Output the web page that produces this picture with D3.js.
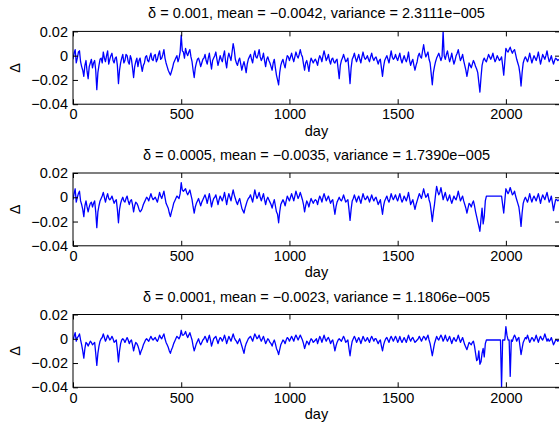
<!DOCTYPE html>
<html lang="en">
	<head>
		<meta charset="utf-8">
		<title>D3: delta per day, three subplots</title>
		<script src="https://d3js.org/d3.v7.min.js"></script>
		<style type="text/css">
			body { margin: 0; background: white; }
			text {
				font-family: "Liberation Sans", Arial, sans-serif;
				font-size: 14.5px;
				fill: black;
			}
		</style>
	</head>
	<body>
		<svg id="fig" width="559" height="432"></svg>

		<script type="text/javascript">

			// values, in units of 0.001.
			// deltaN holds days 0,10,20..., midN holds days 5,15,25...
			var dayStep = 10;
			var xMax = 2250;
			var xTicks = [0, 500, 1000, 1500, 2000];
			var yTicks = [0.02, 0, -0.02, -0.04];

			var titles = [
				"\u03b4 = 0.001, mean = \u22120.0042, variance = 2.3111e\u2212005",
				"\u03b4 = 0.0005, mean = \u22120.0035, variance = 1.7390e\u2212005",
				"\u03b4 = 0.0001, mean = \u22120.0023, variance = 1.1806e\u2212005"
			];

			var delta1 = [
				-3, 5, -2, 4, -9, -17, -4, -19, -6, -10,
				-4, -28, -8, -2, 3, -5, 4, -3, 2, -6,
				-1, -23, -6, 1, -4, 0, -7, -3, -18, -5,
				-9, -2, -13, -6, 0, -5, 2, -4, 1, -3,
				4, -2, 5, -6, -12, -16, -10, -4, 0, -2,
				17, 3, 6, 0, 5, -5, -18, -6, -2, -9,
				-3, 1, -7, 2, -11, -2, 3, -8, 0, -5,
				4, -10, 2, -4, 10, -3, -8, -2, -12, -5,
				-14, -3, 1, -6, 4, -2, 5, -4, 2, -9,
				-1, -6, -12, -3, -16, -24, -8, -3, -10, 0,
				-4, 2, -5, 3, -2, 5, -1, -12, -4, -13,
				-2, -6, -3, -8, 0, -5, 4, -4, 1, -7,
				-2, -6, -3, -19, -4, 1, -5, -2, -23, -3,
				2, -5, 1, -6, 3, -3, 0, -5, 2, -4,
				-1, -7, -3, -17, -4, 0, -6, 4, -3, 1,
				-4, 2, -6, 0, -5, 3, -8, -3, -12, -5,
				2, -2, 9, -1, 3, -6, -24, -9, -2, 2,
				-4, 20, -3, 4, -5, 2, -7, 0, 5, -4,
				1, -8, -17, -6, -10, -4, -9, -14, -30, -8,
				-2, -5, 1, -3, 2, -5, 0, -4, -1, -16,
				6, 3, 7, 2, 5, -3, -9, -25, -6, -1,
				-5, 2, -6, 0, -4, 3, -7, 1, -3, 4,
				-5, 0, -7, -2, -4
			];
			var mid1 = [
				2, -6, 3, -5, -12, -8, -13, -9, -3, -6,
				-12, -14, -3, -6, -2, 0, -7, 0, -4, -2,
				-8, -12, -2, -6, 1, -5, 0, -10, -9, -2,
				-4, -8, -8, -1, -4, -1, -3, 0, -5, 1,
				-3, 1, -2, -9, -14, -13, -6, -2, -5, 3,
				4, -2, 2, 3, -1, -12, -10, -3, -5, -6,
				-2, -4, -2, -5, -4, 0, -3, -4, -3, 0,
				-5, -2, -1, 3, 5, -6, -4, -7, -8, -9,
				-7, -1, -3, 0, -1, 1, -1, -2, -4, -3,
				-4, -9, -6, -10, -20, -14, -5, -7, -4, -1,
				-1, -2, -1, 0, 1, 1, -7, -6, -8, -6,
				-4, -4, -5, -3, -2, 0, 0, -2, -4, -3,
				-5, -4, -11, -8, -2, -2, -4, -12, -10, -1,
				-2, -2, -3, -1, -1, -2, -3, -1, -2, -2,
				-4, -4, -10, -9, -2, -3, -1, -1, -2, -2,
				-1, -3, -3, -3, -2, -4, -5, -8, -8, 0,
				-1, 4, 3, 1, -3, -15, -14, -5, 0, -1,
				-1, 0, 1, -1, -2, -3, -4, 2, 0, -2,
				-4, -12, -12, -8, -7, -6, -11, -22, -18, -4,
				-4, -2, -1, -1, -2, -3, -2, -3, -8, -5,
				4, 5, 4, 4, 1, -6, -15, -14, -3, -3,
				-2, -2, -3, -2, -1, -2, -3, -1, 0, -1,
				-3, -4, -4, -3, -3
			];

			var delta2 = [
				-2, 7, 0, 5, -6, -16, -3, -12, -5, -8,
				-3, -25, -7, -1, 4, -4, 3, -2, 1, -5,
				-2, -21, -5, 0, -4, 1, -6, -2, -12, -4,
				-7, -12, -9, -4, 0, -3, 3, -2, 0, -4,
				4, -1, 5, -5, -9, -16, -9, -3, 1, -1,
				12, 5, 7, 2, 6, -2, -13, -5, -1, -7,
				-2, 2, -5, 3, -8, -1, 2, -6, 1, -3,
				4, -6, 3, -3, 6, -1, -6, -1, -9, -13,
				-6, -1, 2, -4, 6, -1, 4, -3, 3, -6,
				0, -4, -9, -2, -12, -21, -6, -2, -7, 1,
				-3, 3, -3, 5, -1, 4, -2, -12, -3, -8,
				-1, -5, -2, -6, 1, -4, 3, -3, 1, -5,
				-2, -14, -4, 0, -3, 2, -4, -2, -19, -3,
				2, -4, 1, -5, 3, -2, 1, -4, 2, -3,
				0, -6, -2, -14, -3, 1, -4, 3, -2, 2,
				-3, 3, -4, 1, -3, 4, -6, -2, -10, -3,
				3, -1, 7, 0, 3, -5, -20, -6, 9, 2,
				8, -2, 4, -3, 2, -5, 1, -2, 5, -3,
				1, -6, -13, -5, -8, -3, -12, -20, -28, -9,
				-16, 1, 1, 1, 1, 1, 1, 1, 1, -13,
				7, 3, 8, 2, 5, -2, -8, -24, -5, 0,
				-4, 3, -4, 1, -3, 3, -5, 2, -2, 4,
				-4, 1, -11, -2, -3
			];
			var mid2 = [
				3, -4, 3, -3, -10, -7, -8, -8, -4, -5,
				-12, -12, -3, 1, 0, 0, -1, -1, -2, -3,
				-10, -10, -2, -3, -1, -3, -3, -6, -7, -5,
				-10, -11, -6, -2, -1, 0, 0, -1, -2, 0,
				1, 2, 0, -7, -13, -12, -5, -1, 0, 3,
				6, 6, 4, 4, 2, -8, -8, -3, -4, -4,
				0, -1, -1, -2, -4, 0, -2, -2, -1, 0,
				-1, -1, 0, 2, 2, -4, -3, -5, -11, -9,
				-3, 0, -1, 1, 2, 1, 0, 0, -2, -2,
				-2, -6, -5, -7, -14, -12, -4, -4, -3, -1,
				0, 0, 1, 2, 1, 1, -6, -7, -5, -4,
				-3, -3, -3, -2, -1, 0, 0, -1, -2, -3,
				-8, -8, -2, -2, -1, -1, -3, -10, -10, -1,
				-1, -1, -2, -1, 0, -1, -1, -1, -1, -1,
				-3, -4, -8, -7, -1, -2, -1, 0, 0, -1,
				0, -1, -2, -1, 0, -1, -4, -6, -6, 0,
				1, 3, 3, 1, -2, -12, -12, 2, 5, 4,
				3, 1, 0, -1, -2, -2, -1, 1, 1, -1,
				-3, -9, -9, -6, -5, -7, -16, -24, -18, -22,
				-3, 1, 1, 1, 1, 1, 1, 1, -6, -3,
				5, 5, 5, 3, 1, -5, -15, -13, -2, -2,
				-1, -1, -1, -1, 0, -1, -1, 0, 1, 0,
				-2, -5, -6, -2, -2
			];

			var delta3 = [
				-1, 5, 1, 4, -5, -16, -3, -6, -2, -5,
				-3, -22, -6, 0, 4, -2, 3, -1, 2, -3,
				-1, -19, -4, 0, -3, 1, -4, -1, -10, -3,
				-6, -13, -8, -3, 0, -2, 2, -1, 1, -2,
				3, 0, 4, -3, -7, -12, -7, -2, 2, 0,
				7, 3, 6, 1, 5, -1, -10, -4, 0, -5,
				-1, 2, -3, 3, -6, 0, 2, -4, 1, -2,
				3, -4, 2, -2, 4, -1, -4, 0, -6, -12,
				-4, 0, 2, -2, 4, 0, 3, -2, 2, -4,
				0, -3, -6, -1, -8, -13, -5, -1, -4, 1,
				-2, 2, -2, 3, -1, 3, -1, -8, -2, -5,
				0, -3, -1, -4, 2, -3, 3, -2, 1, -4,
				-1, -10, -3, 0, -2, 2, -3, -1, -14, -2,
				2, -3, 1, -4, 2, -2, 1, -3, 2, -2,
				0, -4, -1, -10, -2, 1, -3, 2, -2, 2,
				-3, 2, -3, 1, -3, 3, -2, 1, -3, -1,
				2, -2, 2, -1, 3, -4, -14, -4, 2, -1,
				3, -2, 3, -2, 2, -4, 1, -2, 3, -3,
				1, -5, -9, -3, -5, -2, -12, -17, -21, -12,
				-15, -1, -1, -1, -1, -1, -1, -1, -40, -1,
				10, -1, -31, -2, 3, -2, 1, -13, -3, 1,
				3, -3, 1, -2, 3, -3, 2, -1, 4, -2,
				-2, 1, -5, -1, -2
			];
			var mid3 = [
				2, -2, 2, -1, -10, -8, -4, -4, -3, -4,
				-12, -12, -2, 1, 1, 0, 1, 0, 0, -2,
				-9, -10, -1, -1, -1, -1, -2, -5, -6, -4,
				-9, -10, -5, -1, -1, 0, 0, 0, -1, 0,
				1, 2, 0, -5, -10, -9, -4, 0, 1, 2,
				3, 4, 3, 3, 2, -6, -7, -2, -3, -3,
				0, 0, 0, -1, -3, 1, -1, -1, 0, 0,
				0, -1, 0, 1, 1, -2, -2, -3, -9, -7,
				-2, 1, 0, 1, 2, 1, 0, 0, -1, -2,
				-1, -4, -3, -4, -10, -9, -3, -2, -1, 0,
				0, 0, 1, 1, 1, 1, -4, -5, -3, -2,
				-1, -2, 0, -1, 0, 0, 0, 0, -1, -2,
				-5, -6, -1, -1, 0, 0, -2, -8, -7, 0,
				0, -1, -1, -1, 0, -1, -1, 0, 0, 0,
				-2, -2, -6, -5, 0, -1, 0, 0, 0, 0,
				-1, -1, -1, -1, 0, 0, 0, -1, -2, 0,
				0, 0, 1, 1, -1, -9, -9, -1, 0, 1,
				1, 0, 0, 0, -1, -1, -1, 0, 0, -1,
				-2, -7, -6, -4, -3, -6, -18, -10, -19, -8,
				-4, -1, -1, -1, -1, -1, -1, -1, -1, -1,
				3, -1, -1, 1, 1, 0, -6, -8, -1, 0,
				0, -1, 0, 0, 0, 0, 0, 1, 1, 0,
				-1, -2, -3, -1, -1
			];

			// put the two readings in day order
			var merge = function(a, b){
				var out = [];
				a.forEach(function(v, i) {
					out.push({day: i * dayStep, v: v});
					out.push({day: i * dayStep + dayStep / 2, v: b[i]});
				});
				return out;
			}

			var series = [merge(delta1, mid1), merge(delta2, mid2), merge(delta3, mid3)];

			var svg = d3.select("#fig");

			var left = 73,
				right = 560,
				plotH = 72.8,
				tops = [31.4, 173, 314.5];

			var x = d3.scaleLinear()
						.domain([0, xMax])
						.range([left, right]);

			var drawPanel = function(values, top, title, idx){
				var y = d3.scaleLinear()
							.domain([-0.04, 0.02])
							.range([top + plotH, top]);

				var g = svg.append("g");

				g.append("clipPath")
					.attr("id", "clip" + idx)
				  .append("rect")
					.attr("x", left)
					.attr("y", top)
					.attr("width", right - left)
					.attr("height", plotH);

				var line = d3.line()
							.x(function(d) { return x(d.day); })
							.y(function(d) { return y(d.v / 1000); });

				g.append("path")
					.datum(values)
					.attr("clip-path", "url(#clip" + idx + ")")
					.attr("fill", "none")
					.attr("stroke", "#0000ff")
					.attr("stroke-width", 1.3)
					.attr("stroke-linejoin", "round")
					.attr("d", line);

				// ticks point inward on all four sides, like matlab
				var yl = g.append("g")
							.attr("transform", "translate(" + left + ",0)")
							.call(d3.axisLeft(y).tickValues(yTicks).tickSizeInner(-5).tickSizeOuter(0).tickPadding(5)
								.tickFormat(function(d) { return d === 0 ? "0" : d3.format(".2f")(d); }));
				var xl = g.append("g")
							.attr("transform", "translate(0," + (top + plotH) + ")")
							.call(d3.axisBottom(x).tickValues(xTicks).tickSizeInner(-5).tickSizeOuter(0).tickPadding(5)
								.tickFormat(d3.format("d")));
				var yr = g.append("g")
							.attr("transform", "translate(" + right + ",0)")
							.call(d3.axisRight(y).tickValues(yTicks).tickSizeInner(-5).tickSizeOuter(0).tickFormat(""));
				var xt = g.append("g")
							.attr("transform", "translate(0," + top + ")")
							.call(d3.axisTop(x).tickValues(xTicks).tickSizeInner(-5).tickSizeOuter(0).tickFormat(""));

				[yl, xl, yr, xt].forEach(function(a) {
					a.select(".domain").remove();
					a.selectAll("line").attr("stroke", "black");
					a.selectAll("text")
						.attr("fill", "black")
						.style("font-family", "'Liberation Sans', Arial, sans-serif")
						.style("font-size", "14.5px");
				});

				g.append("rect")
					.attr("x", left)
					.attr("y", top)
					.attr("width", right - left)
					.attr("height", plotH)
					.attr("fill", "none")
					.attr("stroke", "black")
					.attr("stroke-width", 1);

				g.append("text")
					.attr("x", (left + right) / 2)
					.attr("y", top - 13)
					.attr("text-anchor", "middle")
					.text(title);

				g.append("text")
					.attr("x", (left + right) / 2)
					.attr("y", top + plotH + 31.5)
					.attr("text-anchor", "middle")
					.text("day");

				g.append("text")
					.attr("transform", "translate(20," + (top + plotH / 2) + ") rotate(-90)")
					.attr("text-anchor", "middle")
					.text("\u0394");
			}

			series.forEach(function(s, i) {
				drawPanel(s, tops[i], titles[i], i);
			});

		</script>
	</body>
</html>
